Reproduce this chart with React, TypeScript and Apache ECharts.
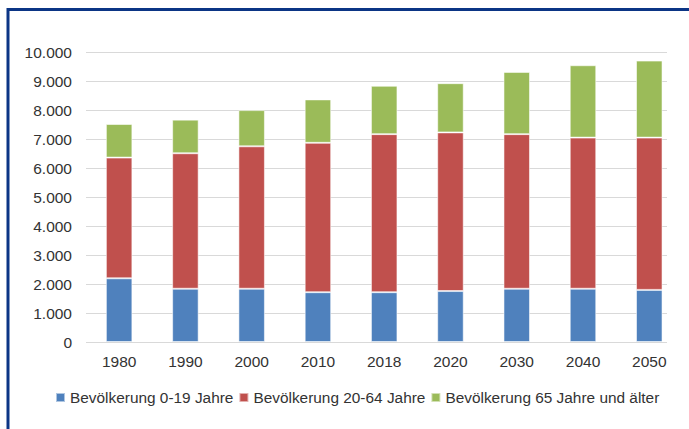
import React, { useEffect, useRef } from "react";
import * as echarts from "echarts";

const categories = ["1980", "1990", "2000", "2010", "2018", "2020", "2030", "2040", "2050"];
const seriesNames = [
  "Bevölkerung 0-19 Jahre",
  "Bevölkerung 20-64 Jahre",
  "Bevölkerung 65 Jahre und älter",
];
const age0to19 = [2200, 1840, 1840, 1720, 1720, 1760, 1840, 1840, 1800];
const age20to64 = [4170, 4680, 4920, 5160, 5460, 5480, 5340, 5220, 5260];
const age65plus = [1160, 1160, 1250, 1500, 1670, 1700, 2150, 2500, 2660];
const yMin = 0;
const yMax = 10000;
const yInterval = 1000;

const colors = ["#4F81BD", "#C0504D", "#9BBB59"];
const FONT = "'Liberation Sans', Arial, sans-serif";
const TEXT = "#333333";

export default function App() {
  const ref = useRef<HTMLDivElement>(null);
  useEffect(() => {
    document.body.style.margin = "0";
    const chart = echarts.init(ref.current!, undefined, { renderer: "svg" });
    const fmt = (v: number) => v.toLocaleString("de-DE");
    const data = [age0to19, age20to64, age65plus];
    chart.setOption({
      animation: false,
      backgroundColor: "#ffffff",
      textStyle: { fontFamily: FONT },
      graphic: [
        {
          type: "rect",
          shape: { x: 8, y: 9.5, width: 900, height: 600 },
          style: { fill: "none", stroke: "#0B3585", lineWidth: 3 },
          silent: true,
        },
      ],
      legend: {
        left: 50,
        top: 385,
        itemWidth: 9,
        itemHeight: 9,
        itemGap: 5,
        icon: "rect",
        textStyle: { fontSize: 15.4, color: TEXT, fontFamily: FONT },
        data: seriesNames,
      },
      grid: [
        { left: 86, right: 22, top: 52.5, bottom: 87, containLabel: false },
        { left: 86, right: 6.6, top: 52.5, bottom: 87, containLabel: false },
      ],
      xAxis: [
        { type: "category", gridIndex: 0, data: categories, show: false },
        {
          type: "category",
          gridIndex: 1,
          data: categories,
          axisLine: { show: false },
          axisTick: { show: false },
          axisLabel: { margin: 11, fontSize: 15.5, color: TEXT, fontFamily: FONT },
        },
      ],
      yAxis: [
        {
          type: "value",
          gridIndex: 0,
          min: yMin,
          max: yMax,
          interval: yInterval,
          axisLine: { show: false },
          axisTick: { show: false },
          axisLabel: {
            margin: 14,
            fontSize: 15.5,
            color: TEXT,
            fontFamily: FONT,
            formatter: fmt,
          },
          splitLine: { lineStyle: { color: "#D9D9D9", width: 1 } },
        },
        {
          type: "value",
          gridIndex: 1,
          min: yMin,
          max: yMax,
          interval: yInterval,
          show: false,
          splitLine: { show: false },
        },
      ],
      series: seriesNames.map((name, i) => ({
        name,
        type: "bar",
        stack: "total",
        xAxisIndex: 1,
        yAxisIndex: 1,
        barWidth: "40%",
        data: data[i],
        itemStyle: {
          color: colors[i],
          borderColor: "rgba(255,255,255,0.55)",
          borderWidth: 1,
        },
      })),
    });
    return () => chart.dispose();
  }, []);
  return <div ref={ref} style={{ width: 689, height: 429 }} />;
}
